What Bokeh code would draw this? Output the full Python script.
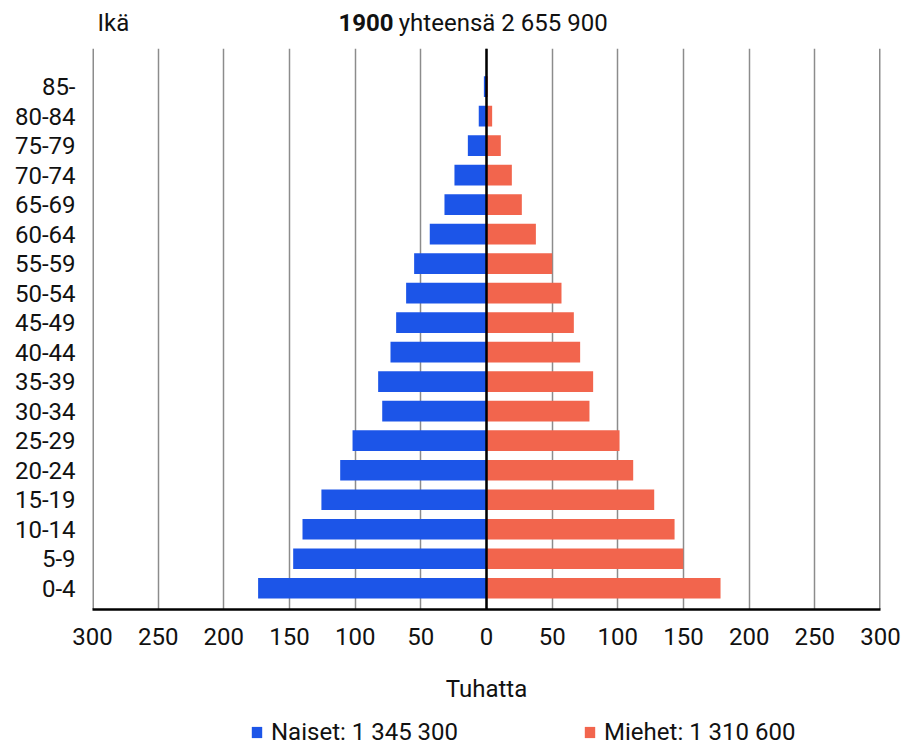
from bokeh.plotting import figure
from bokeh.models import ColumnDataSource, FixedTicker, Span, Legend, LegendItem, Range1d
from bokeh.layouts import column
from bokeh.core.properties import value
from bokeh.embed import file_html
from bokeh.resources import INLINE

# ---- data ----
ages = ["0-4", "5-9", "10-14", "15-19", "20-24", "25-29", "30-34", "35-39", "40-44",
        "45-49", "50-54", "55-59", "60-64", "65-69", "70-74", "75-79", "80-84", "85-"]
naiset = [173.9, 147.2, 140.1, 125.7, 111.4, 102.0, 79.4, 82.5, 73.1,
          68.8, 61.2, 55.1, 43.2, 32.0, 24.4, 14.2, 5.9, 2.0]
miehet = [178.2, 149.8, 143.2, 127.7, 111.7, 101.3, 78.4, 81.2, 71.3,
          66.5, 57.1, 50.0, 37.6, 26.9, 19.3, 10.9, 4.3, 1.0]
x_ticks = [-300, -250, -200, -150, -100, -50, 0, 50, 100, 150, 200, 250, 300]
x_tick_labels = ["300", "250", "200", "150", "100", "50", "0", "50", "100", "150", "200", "250", "300"]
title_year = "1900"
title_rest = "yhteensä 2 655 900"
y_title = "Ikä"
x_title = "Tuhatta"
legend_naiset = "Naiset: 1 345 300"
legend_miehet = "Miehet: 1 310 600"

FONT = "Roboto"
FS = "24px"
BLUE = "#1c55e8"
RED = "#f2654d"
GRID = "#8c8c8c"
TXT = "#111111"

LEFT, FRAME_W, RIGHT = 92, 788, 22
W = LEFT + FRAME_W + RIGHT

pos = list(range(len(ages)))
src = ColumnDataSource(dict(y=pos, nl=[-v for v in naiset], mr=miehet))
xr = Range1d(x_ticks[0], x_ticks[-1])

# ---- header ----
head = figure(frame_width=FRAME_W, frame_height=48, x_range=xr, y_range=Range1d(0, 48),
              x_axis_type=None, y_axis_type=None, output_backend="svg", toolbar_location=None,
              min_border_left=LEFT, min_border_right=RIGHT, min_border_top=0, min_border_bottom=0)
head.outline_line_color = None
head.grid.visible = False
head.text(x=[-296.2], y=[26], text=[y_title], text_font=value(FONT), text_font_size=FS,
          text_baseline="middle", text_align="left", text_color=TXT)
head.text(x=[-70.8], y=[26], text=[title_year], text_font=value(FONT), text_font_size=FS,
          text_font_style="bold", text_baseline="middle", text_align="right", text_color=TXT)
head.text(x=[-66.8], y=[26], text=[title_rest], text_font=value(FONT), text_font_size=FS,
          text_baseline="middle", text_align="left", text_color=TXT)

# ---- main chart ----
p = figure(frame_width=FRAME_W, frame_height=561,
           x_range=xr, y_range=Range1d(-0.72, 18.29),
           output_backend="svg", toolbar_location=None,
           min_border_left=LEFT, min_border_top=0, min_border_right=RIGHT, min_border_bottom=103)
p.outline_line_color = None

rb = p.hbar(y="y", left="nl", right=0, height=0.7, fill_color=BLUE, line_color=None, source=src)
rr = p.hbar(y="y", left=0, right="mr", height=0.7, fill_color=RED, line_color=None, source=src)

p.add_layout(Span(location=0, dimension="height", line_color="black", line_width=2.5))
# frame edge grid lines (at the outermost ticks)
p.add_layout(Span(location=x_ticks[0], dimension="height", line_color=GRID, line_width=3, level="underlay"))
p.add_layout(Span(location=x_ticks[-1], dimension="height", line_color=GRID, line_width=3, level="underlay"))

p.ygrid.visible = False
p.xgrid.ticker = FixedTicker(ticks=x_ticks)
p.xgrid.grid_line_color = GRID
p.xgrid.grid_line_width = 1.5

xa = p.xaxis[0]
xa.ticker = FixedTicker(ticks=x_ticks)
xa.major_label_overrides = {t: l for t, l in zip(x_ticks, x_tick_labels)}
xa.axis_line_color = "black"
xa.axis_line_width = 2.5
xa.major_tick_line_color = None
xa.minor_tick_line_color = None
xa.major_tick_out = 0
xa.major_label_standoff = 18
xa.major_label_text_font = FONT
xa.major_label_text_font_size = FS
xa.major_label_text_color = TXT
xa.axis_label = x_title
xa.axis_label_text_font = FONT
xa.axis_label_text_font_size = FS
xa.axis_label_text_font_style = "normal"
xa.axis_label_text_color = TXT
xa.axis_label_standoff = 27

ya = p.yaxis[0]
ya.ticker = FixedTicker(ticks=pos)
ya.major_label_overrides = {i: a for i, a in zip(pos, ages)}
ya.axis_line_color = None
ya.major_tick_line_color = None
ya.minor_tick_line_color = None
ya.major_tick_out = 0
ya.major_label_standoff = 17
ya.major_label_text_font = FONT
ya.major_label_text_font_size = FS
ya.major_label_text_color = TXT

# ---- footer with legend (swatches only; no data drawn here) ----
foot = figure(frame_width=FRAME_W, frame_height=34, x_range=Range1d(0, 1), y_range=Range1d(0, 1),
              x_axis_type=None, y_axis_type=None, output_backend="svg", toolbar_location=None,
              min_border_left=LEFT, min_border_right=RIGHT, min_border_top=0, min_border_bottom=0)
foot.outline_line_color = None
foot.grid.visible = False
swatch = ColumnDataSource(dict(y=[-10], l=[0], r=[0]))
lb = foot.hbar(y="y", left="l", right="r", height=0.5, fill_color=BLUE, line_color=None, source=swatch)
lr = foot.hbar(y="y", left="l", right="r", height=0.5, fill_color=RED, line_color=None, source=swatch)
legend = Legend(items=[LegendItem(label=legend_naiset, renderers=[lb]),
                       LegendItem(label=legend_miehet, renderers=[lr])],
                orientation="horizontal", location=(158, 0), spacing=125,
                padding=0, margin=0, glyph_width=13, glyph_height=14, label_standoff=8,
                label_text_font=FONT, label_text_font_size=FS, label_text_color=TXT,
                border_line_color=None, background_fill_alpha=0)
foot.add_layout(legend)

layout = column(head, p, foot, spacing=0)
open("out.html", "w").write(file_html(layout, INLINE))
